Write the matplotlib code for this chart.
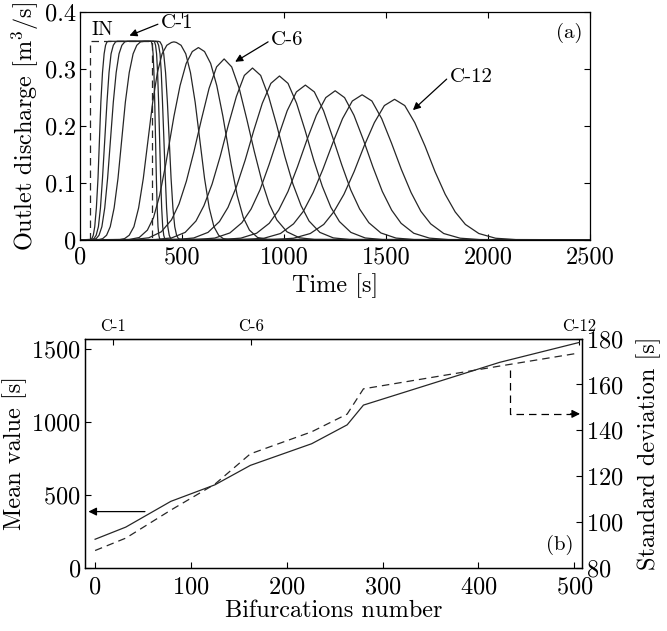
import matplotlib
matplotlib.use('Agg')
import matplotlib.pyplot as plt

plt.rcParams['font.family'] = 'serif'
plt.rcParams['font.serif'] = ['cmr10', 'DejaVu Serif']
plt.rcParams['mathtext.fontset'] = 'cm'
plt.rcParams['axes.formatter.use_mathtext'] = True
plt.rcParams['axes.unicode_minus'] = False

# ---- panel (a): outlet hydrographs ----
# inflow hydrograph (IN)
in_time = [50, 50, 352, 352]
in_flow = [0, 0.35, 0.35, 0]

# outlet hydrographs
time_1 = [0, 50, 58, 65, 72, 80, 88, 95, 102, 110, 118, 125, 132, 140,
          346, 350, 354, 358, 362, 366, 370, 374, 378, 382, 386, 390, 394, 2500]
flow_1 = [0, 0.0005, 0.002, 0.008, 0.023, 0.056, 0.108, 0.175, 0.242, 0.294, 0.327, 0.342, 0.348, 0.349,
          0.349, 0.348, 0.342, 0.327, 0.294, 0.242, 0.175, 0.108, 0.056, 0.023, 0.008, 0.002, 0.0005, 0]
time_2 = [0, 58, 68, 79, 90, 100, 110, 121, 132, 142, 152, 163, 174, 184,
          360, 365, 370, 375, 380, 385, 390, 395, 400, 405, 410, 415, 420, 2500]
flow_2 = [0, 0.0005, 0.002, 0.008, 0.023, 0.056, 0.108, 0.175, 0.242, 0.294, 0.327, 0.342, 0.348, 0.349,
          0.349, 0.348, 0.342, 0.327, 0.294, 0.242, 0.175, 0.108, 0.056, 0.023, 0.008, 0.002, 0.0005, 0]
time_3 = [0, 65, 79, 93, 107, 121, 135, 149, 163, 177, 191, 205, 219, 233,
          372, 378, 385, 392, 398, 404, 411, 418, 424, 430, 437, 444, 450, 2500]
flow_3 = [0, 0.0005, 0.002, 0.008, 0.023, 0.056, 0.108, 0.175, 0.242, 0.294, 0.327, 0.342, 0.348, 0.349,
          0.349, 0.348, 0.342, 0.327, 0.294, 0.242, 0.175, 0.108, 0.056, 0.023, 0.008, 0.002, 0.0005, 0]
time_4 = [0, 93, 111, 130, 148, 167, 186, 204, 222, 241, 260, 278, 296, 315,
          383, 392, 401, 410, 419, 428, 437, 446, 455, 464, 473, 482, 491, 2500]
flow_4 = [0, 0.0005, 0.002, 0.008, 0.023, 0.056, 0.108, 0.175, 0.242, 0.294, 0.327, 0.342, 0.348, 0.349,
          0.349, 0.348, 0.342, 0.327, 0.294, 0.242, 0.175, 0.108, 0.056, 0.023, 0.008, 0.002, 0.0005, 0]
time_5 = [0, 195, 218, 241, 264, 287, 310, 333, 356, 379, 402, 425, 448, 460,
          472, 495, 518, 541, 564, 587, 610, 633, 656, 679, 702, 725, 2500]
flow_5 = [0, 0.0005, 0.002, 0.008, 0.023, 0.056, 0.108, 0.175, 0.242, 0.294, 0.327, 0.342, 0.347, 0.348,
          0.347, 0.342, 0.327, 0.294, 0.242, 0.175, 0.108, 0.056, 0.023, 0.008, 0.002, 0.0005, 0]
time_6 = [0, 240, 290, 330, 360, 390, 420, 440, 460, 490, 520, 550, 580,
          610, 640, 670, 700, 720, 740, 770, 800, 830, 870, 920, 2500]
flow_6 = [0, 0.0004, 0.004, 0.017, 0.039, 0.078, 0.133, 0.175, 0.217, 0.271, 0.310, 0.331, 0.338,
          0.331, 0.310, 0.271, 0.217, 0.175, 0.133, 0.078, 0.039, 0.017, 0.004, 0.0004, 0]
time_7 = [0, 263, 337, 398, 448, 485, 521, 558, 595, 632, 669, 706,
          743, 780, 817, 854, 891, 927, 964, 1014, 1075, 1149, 2500]
flow_7 = [0, 0.0005, 0.0035, 0.014, 0.035, 0.063, 0.103, 0.155, 0.212, 0.266, 0.304, 0.318,
          0.304, 0.266, 0.212, 0.155, 0.103, 0.063, 0.035, 0.014, 0.0035, 0.0005, 0]
time_8 = [0, 370, 449, 515, 568, 607, 647, 687, 726, 766, 805, 845,
          885, 924, 964, 1003, 1043, 1083, 1122, 1175, 1241, 1320, 2500]
flow_8 = [0, 0.0005, 0.0033, 0.013, 0.033, 0.060, 0.098, 0.147, 0.201, 0.252, 0.289, 0.302,
          0.289, 0.252, 0.201, 0.147, 0.098, 0.060, 0.033, 0.013, 0.0033, 0.0005, 0]
time_9 = [0, 473, 557, 627, 683, 725, 767, 809, 851, 893, 935, 977,
          1019, 1061, 1103, 1145, 1187, 1229, 1271, 1327, 1397, 1481, 2500]
flow_9 = [0, 0.0004, 0.0032, 0.013, 0.032, 0.057, 0.094, 0.140, 0.192, 0.240, 0.275, 0.288,
          0.275, 0.240, 0.192, 0.140, 0.094, 0.057, 0.032, 0.013, 0.0032, 0.0004, 0]
time_10 = [0, 571, 660, 734, 793, 838, 882, 926, 971, 1015, 1060, 1104,
           1148, 1193, 1237, 1282, 1326, 1370, 1415, 1474, 1548, 1637, 2500]
flow_10 = [0, 0.0004, 0.003, 0.012, 0.030, 0.054, 0.088, 0.132, 0.181, 0.227, 0.260, 0.272,
           0.260, 0.227, 0.181, 0.132, 0.088, 0.054, 0.030, 0.012, 0.003, 0.0004, 0]
time_11 = [0, 696, 788, 865, 927, 973, 1019, 1065, 1111, 1158, 1204, 1250,
           1296, 1342, 1389, 1435, 1481, 1527, 1573, 1635, 1712, 1804, 2500]
flow_11 = [0, 0.0004, 0.0029, 0.0115, 0.029, 0.052, 0.085, 0.128, 0.175, 0.219, 0.250, 0.262,
           0.250, 0.219, 0.175, 0.128, 0.085, 0.052, 0.029, 0.0115, 0.0029, 0.0004, 0]
time_12 = [0, 806, 902, 982, 1046, 1094, 1142, 1190, 1238, 1286, 1334, 1382,
           1430, 1478, 1526, 1574, 1622, 1670, 1718, 1782, 1862, 1958, 2500]
flow_12 = [0, 0.0004, 0.0028, 0.011, 0.028, 0.050, 0.083, 0.124, 0.170, 0.213, 0.244, 0.255,
           0.244, 0.213, 0.170, 0.124, 0.083, 0.050, 0.028, 0.011, 0.0028, 0.0004, 0]
time_13 = [0, 947, 1046, 1128, 1194, 1243, 1293, 1343, 1392, 1442, 1491, 1541,
           1591, 1640, 1690, 1739, 1789, 1838, 1888, 1954, 2036, 2135, 2500]
flow_13 = [0, 0.0004, 0.0027, 0.011, 0.027, 0.049, 0.080, 0.120, 0.165, 0.206, 0.236, 0.247,
           0.236, 0.206, 0.165, 0.120, 0.080, 0.049, 0.027, 0.011, 0.0027, 0.0004, 0]

# ---- panel (b): mean value and standard deviation ----
bifurcations = [0, 32, 79, 125, 162, 226, 263, 280, 422, 505]
mean_value = [198, 281, 457, 570, 703, 851, 980, 1115, 1407, 1543]
std_dev = [87.7, 93.1, 105.3, 116.6, 129.8, 139.4, 147.1, 158.1, 168.0, 173.7]

case_pos = [19, 163, 505]
case_labels = ['C-1', 'C-6', 'C-12']

LINE = '#262626'
FS = 17.5

fig = plt.figure(figsize=(6.67, 6.31), dpi=100)

# panel (a)
ax = fig.add_axes([0.120, 0.620, 0.765, 0.3605])
ax.plot(in_time, in_flow, color=LINE, lw=0.9, linestyle=(0, (6, 4)))
hydros = [(time_1, flow_1), (time_2, flow_2), (time_3, flow_3), (time_4, flow_4),
          (time_5, flow_5), (time_6, flow_6), (time_7, flow_7), (time_8, flow_8),
          (time_9, flow_9), (time_10, flow_10), (time_11, flow_11),
          (time_12, flow_12), (time_13, flow_13)]
for tt, qq in hydros:
    ax.plot(tt, qq, color=LINE, lw=0.9)

ax.set_xlim(0, 2500)
ax.set_ylim(0, 0.4)
ax.set_xticks([0, 500, 1000, 1500, 2000, 2500])
ax.set_xticklabels(['0', '500', '1000', '1500', '2000', '2500'])
ax.set_yticks([0, 0.1, 0.2, 0.3, 0.4])
ax.set_yticklabels(['0', '0.1', '0.2', '0.3', '0.4'])
ax.tick_params(direction='in', top=True, right=True, labelsize=FS, length=4, pad=3)
ax.tick_params(axis='x', pad=5)
ax.set_xlabel('Time [s]', fontsize=FS, labelpad=3)
ax.set_ylabel('Outlet discharge [m$^3$/s]', fontsize=FS, labelpad=3)

arrow = dict(arrowstyle='-|>', color='k', lw=0.9, shrinkA=0, shrinkB=0,
             mutation_scale=11, relpos=(0, 0.5))
ax.annotate('C-1', xy=(242, 0.359), xytext=(395, 0.381), fontsize=15,
            ha='left', va='center', arrowprops=arrow)
ax.annotate('C-6', xy=(760, 0.313), xytext=(935, 0.351), fontsize=15,
            ha='left', va='center', arrowprops=arrow)
ax.annotate('C-12', xy=(1631, 0.228), xytext=(1810, 0.287), fontsize=15,
            ha='left', va='center', arrowprops=arrow)
ax.text(57, 0.368, 'IN', fontsize=14, ha='left', va='center')
ax.text(0.985, 0.91, '(a)', transform=ax.transAxes, fontsize=15,
        ha='right', va='center')

# panel (b)
axb = fig.add_axes([0.1275, 0.0995, 0.745, 0.3640])
axb.plot(bifurcations, mean_value, color=LINE, lw=0.9)
axb.set_xlim(-10.5, 508)
axb.set_ylim(0, 1570)
axb.set_xticks([0, 100, 200, 300, 400, 500])
axb.set_yticks([0, 500, 1000, 1500])
axb.tick_params(direction='in', labelsize=FS, length=4, pad=3)
axb.tick_params(axis='x', pad=6)
axb.set_xlabel('Bifurcations number', fontsize=FS, labelpad=1)
axb.set_ylabel('Mean value [s]', fontsize=FS, labelpad=3)

axr = axb.twinx()
axr.plot(bifurcations, std_dev, color=LINE, lw=0.9, linestyle=(0, (6, 4)))
axr.set_ylim(80, 180)
axr.set_yticks([80, 100, 120, 140, 160, 180])
axr.tick_params(direction='in', labelsize=FS, length=4, pad=3)
axr.set_ylabel('Standard deviation [s]', fontsize=FS, labelpad=9)

top = axb.secondary_xaxis('top')
top.set_xticks(case_pos)
top.set_xticklabels(case_labels)
top.tick_params(direction='in', labelsize=12, length=4, pad=3)

# pointer arrows to the axes
axb.annotate('', xy=(-7, 387), xytext=(52, 387),
             arrowprops=dict(arrowstyle='-|>', color='k', lw=0.9,
                             shrinkA=0, shrinkB=0, mutation_scale=12))
axr.plot([433, 433, 498], [166.4, 147.2, 147.2], color='k', lw=0.9,
         linestyle=(0, (6, 4)))
axr.annotate('', xy=(506, 147.2), xytext=(496, 147.2),
             arrowprops=dict(arrowstyle='-|>', color='k', lw=0.9,
                             shrinkA=0, shrinkB=0, mutation_scale=12))
axb.text(0.955, 0.10, '(b)', transform=axb.transAxes, fontsize=15,
         ha='center', va='center')

for a in (ax, axb, axr):
    for s in a.spines.values():
        s.set_linewidth(0.9)

fig.savefig('out.png', dpi=100)
